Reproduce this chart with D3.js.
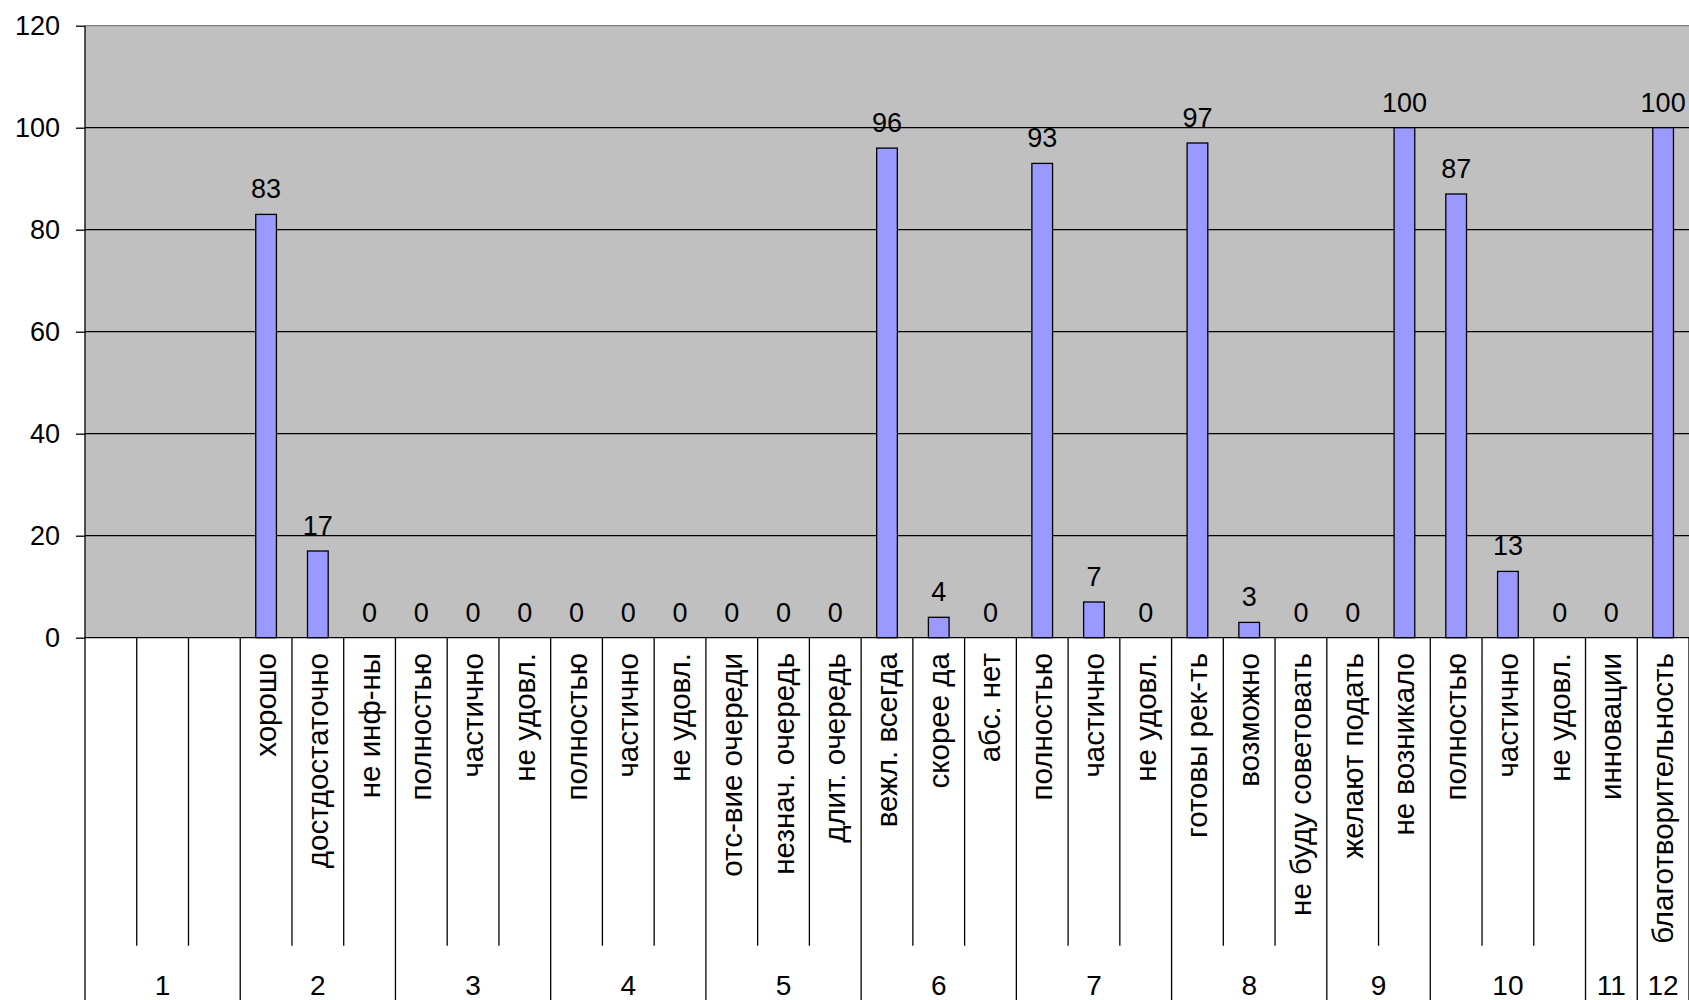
<!DOCTYPE html>
<html>
<head>
<meta charset="utf-8">
<script src="https://cdn.jsdelivr.net/npm/d3@7"></script>
<style>
  body { margin: 0; background: #fff; }
  text { font-family: "Liberation Sans", Arial, sans-serif; fill: #000; }
</style>
</head>
<body>
<div id="draw-space"></div>
<script>
const groupLabels = ['1', '2', '3', '4', '5', '6', '7', '8', '9', '10', '11', '12'];

const categoryLabels = ['', '', '',
  'хорошо', 'достдостаточно', 'не инф-ны',
  'полностью', 'частично', 'не удовл.',
  'полностью', 'частично', 'не удовл.',
  'отс-вие очереди', 'незнач. очередь', 'длит. очередь',
  'вежл. всегда', 'скорее да', 'абс. нет',
  'полностью', 'частично', 'не удовл.',
  'готовы рек-ть', 'возможно', 'не буду советовать',
  'желают подать', 'не возникало',
  'полностью', 'частично', 'не удовл.',
  'инновации',
  'благотворительность'];

const categoryGroup = [1, 1, 1, 2, 2, 2, 3, 3, 3, 4, 4, 4, 5, 5, 5, 6, 6, 6,
                       7, 7, 7, 8, 8, 8, 9, 9, 10, 10, 10, 11, 12];

const values = [null, null, null, 83, 17, 0, 0, 0, 0, 0, 0, 0, 0, 0, 0,
                96, 4, 0, 93, 7, 0, 97, 3, 0, 0, 100, 87, 13, 0, 0, 100];

const yTicks = [0, 20, 40, 60, 80, 100, 120];

const width = 1689, height = 1000;
const plotLeft = 85, plotRight = 1689, plotTop = 25.7, zeroY = 637.7;

const svg = d3.select('#draw-space').append('svg')
              .attr('width', width)
              .attr('height', height);

const xScale = d3.scaleBand()
                 .domain(d3.range(categoryLabels.length))
                 .range([plotLeft, plotRight]);

const yScale = d3.scaleLinear()
                 .domain([0, 120])
                 .range([zeroY, plotTop]);

// plot background
svg.append('rect')
   .attr('x', plotLeft)
   .attr('y', plotTop)
   .attr('width', plotRight - plotLeft)
   .attr('height', zeroY - plotTop)
   .attr('fill', '#c0c0c0');

// gridlines
svg.selectAll('.grid')
   .data(yTicks.filter(d => d > 0 && d < 120))
   .enter()
   .append('line')
   .attr('x1', plotLeft)
   .attr('x2', plotRight)
   .attr('y1', d => yScale(d))
   .attr('y2', d => yScale(d))
   .attr('stroke', '#000')
   .attr('stroke-width', 1.3);

svg.append('line')
   .attr('x1', plotLeft)
   .attr('x2', plotRight)
   .attr('y1', yScale(120))
   .attr('y2', yScale(120))
   .attr('stroke', '#808080')
   .attr('stroke-width', 1.3);

// bars
const barW = xScale.bandwidth() * 0.4;
const barData = values.map((v, i) => ({ i, v })).filter(d => d.v !== null);

svg.selectAll('.bar')
   .data(barData.filter(d => d.v > 0))
   .enter()
   .append('rect')
   .attr('class', 'bar')
   .attr('x', d => xScale(d.i) + (xScale.bandwidth() - barW) / 2)
   .attr('y', d => yScale(d.v))
   .attr('width', barW)
   .attr('height', d => yScale(0) - yScale(d.v))
   .attr('fill', '#9999ff')
   .attr('stroke', '#000')
   .attr('stroke-width', 1.3);

svg.selectAll('.value-label')
   .data(barData)
   .enter()
   .append('text')
   .attr('class', 'value-label')
   .attr('x', d => xScale(d.i) + xScale.bandwidth() / 2)
   .attr('y', d => yScale(d.v) - 16)
   .attr('text-anchor', 'middle')
   .attr('font-size', 27)
   .text(d => d.v);

// y axis
const yAxis = svg.append('g')
                 .attr('transform', `translate(${plotLeft},0)`)
                 .call(d3.axisLeft(yScale)
                         .tickValues(yTicks)
                         .tickSize(9)
                         .tickPadding(16));

yAxis.select('.domain').remove();
yAxis.selectAll('.tick line').attr('stroke', '#000').attr('stroke-width', 1.3);
yAxis.selectAll('.tick text')
     .attr('font-size', 27)
     .attr('font-family', '"Liberation Sans", Arial, sans-serif');

svg.append('line')
   .attr('x1', plotLeft)
   .attr('x2', plotLeft)
   .attr('y1', plotTop)
   .attr('y2', height)
   .attr('stroke', '#000')
   .attr('stroke-width', 1.3);

// zero line
svg.append('line')
   .attr('x1', plotLeft)
   .attr('x2', plotRight)
   .attr('y1', zeroY)
   .attr('y2', zeroY)
   .attr('stroke', '#000')
   .attr('stroke-width', 1.3);

// category separators
const bounds = d3.range(1, categoryLabels.length + 1);
svg.selectAll('.sep')
   .data(bounds)
   .enter()
   .append('line')
   .attr('x1', d => plotLeft + d * xScale.step())
   .attr('x2', d => plotLeft + d * xScale.step())
   .attr('y1', zeroY)
   .attr('y2', d => (d < categoryLabels.length && categoryGroup[d] === categoryGroup[d - 1]) ? 945.7 : height)
   .attr('stroke', '#000')
   .attr('stroke-width', 1.3);

// category labels
svg.selectAll('.cat-label')
   .data(categoryLabels.map((t, i) => ({ t, i })).filter(d => d.t))
   .enter()
   .append('text')
   .attr('class', 'cat-label')
   .attr('transform', d => `translate(${xScale(d.i) + xScale.bandwidth() / 2 + 10},653) rotate(-90)`)
   .attr('text-anchor', 'end')
   .attr('font-size', 29.5)
   .text(d => d.t);

// group labels
svg.selectAll('.group-label')
   .data(groupLabels)
   .enter()
   .append('text')
   .attr('class', 'group-label')
   .attr('x', g => {
     const idx = categoryGroup.map((c, i) => c === +g ? i : -1).filter(i => i >= 0);
     return plotLeft + (idx[0] + idx.length / 2) * xScale.step();
   })
   .attr('y', 995)
   .attr('text-anchor', 'middle')
   .attr('font-size', 28)
   .text(g => g);
</script>
</body>
</html>
